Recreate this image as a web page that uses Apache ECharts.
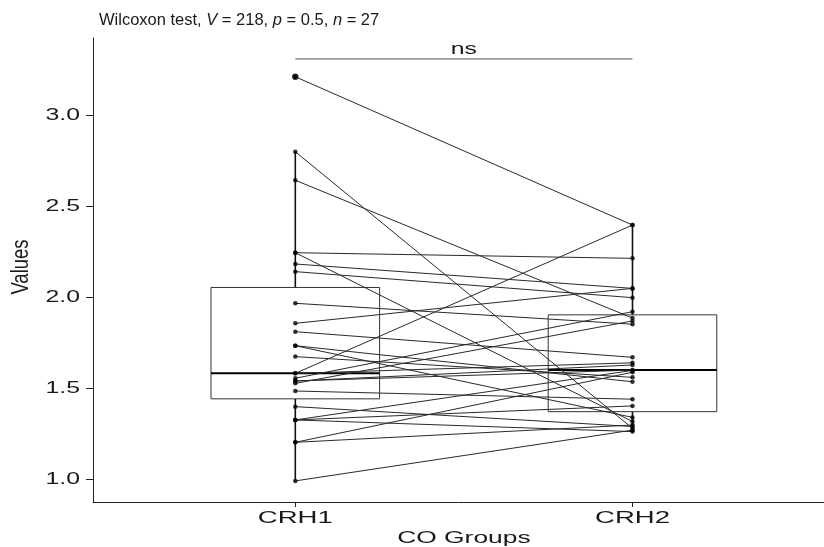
<!DOCTYPE html>
<html>
<head>
<meta charset="utf-8">
<script src="https://cdn.jsdelivr.net/npm/echarts@6/dist/echarts.min.js"></script>
<style>
html,body{margin:0;padding:0;background:#fff;}
#chart{width:824px;height:547px;}
</style>
</head>
<body>
<div id="chart"></div>
<script>
// ---- data ----
const categories = ['CRH1', 'CRH2'];
const crh1 = [3.212, 2.800, 2.643, 2.245, 2.245, 2.183, 2.141, 1.967, 1.857, 1.811, 1.734, 1.734, 1.674, 1.582,
              1.582, 1.555, 1.540, 1.540, 1.527, 1.485, 1.399, 1.326, 1.326, 1.326, 1.203, 1.203, 0.991];
const crh2 = [2.397, 1.280, 1.886, 2.214, 1.317, 2.049, 1.998, 1.852, 2.049, 1.670, 1.536, 1.340, 1.560, 2.397,
              1.640, 1.921, 1.628, 1.600, 1.870, 1.440, 1.290, 1.403, 1.598, 1.262, 1.298, 1.588, 1.270];
const yTicks = [1.0, 1.5, 2.0, 2.5, 3.0];
const xTitle = 'CO Groups';
const yTitle = 'Values';
const testTitle = ['Wilcoxon test, ', 'V', ' = 218, ', 'p', ' = 0.5, ', 'n', ' = 27'];
const sigLabel = 'ns';
const sigLevel = 3.31;

// ---- helpers ----
function quantile(arr, p) {
  const s = arr.slice().sort((a, b) => a - b);
  const h = (s.length - 1) * p;
  const lo = Math.floor(h), hi = Math.ceil(h);
  return s[lo] + (s[hi] - s[lo]) * (h - lo);
}
function boxStats(arr) {
  const q1 = quantile(arr, 0.25), med = quantile(arr, 0.5), q3 = quantile(arr, 0.75);
  const iqr = q3 - q1;
  const inside = arr.filter(v => v >= q1 - 1.5 * iqr && v <= q3 + 1.5 * iqr);
  return [Math.min(...inside), q1, med, q3, Math.max(...inside)];
}
const groups = [crh1, crh2];
const boxData = groups.map((g, i) => [i + 1].concat(boxStats(g)));

const pairLines = crh1.map((v, i) => ({ coords: [[1, v], [2, crh2[i]]] }));
const points = [];
groups.forEach((g, i) => g.forEach(v => points.push([i + 1, v])));
const outliers = [];
groups.forEach((g, i) => {
  const st = boxStats(g);
  g.forEach(v => { if (v < st[0] || v > st[4]) outliers.push([i + 1, v]); });
});

const FONT = '"Liberation Sans", Arial, sans-serif';
const TXT = '#1a1a1a';
const chart = echarts.init(document.getElementById('chart'));

const rich = { n: { fontFamily: FONT, fontSize: 16.5, color: TXT, fontWeight: 'normal' },
               i: { fontFamily: FONT, fontSize: 16.5, color: TXT, fontWeight: 'normal', fontStyle: 'italic' } };
const titleText = testTitle.map((t, k) => (k % 2 ? '{i|' : '{n|') + t + '}').join('');

chart.setOption({
  animation: false,
  backgroundColor: '#fff',
  title: { text: titleText, left: 94, top: 7, textStyle: { rich: rich, fontWeight: 'normal' } },
  grid: { left: 93, right: 0, top: 38, bottom: 45, outerBoundsMode: 'none' },
  xAxis: {
    type: 'value', min: 0.4, max: 2.568,
    splitLine: { show: false },
    axisLine: { show: true, onZero: false, lineStyle: { color: '#222', width: 1 } },
    axisTick: { show: true, customValues: [1, 2], length: 5, lineStyle: { color: '#222' } },
    axisLabel: { show: false }
  },
  yAxis: {
    type: 'value', min: 0.875, max: 3.425,
    splitLine: { show: false },
    axisLine: { show: true, onZero: false, lineStyle: { color: '#222', width: 1 } },
    axisTick: { show: true, customValues: yTicks, length: 7, lineStyle: { color: '#222' } },
    axisLabel: { show: false }
  },
  series: [
    {
      type: 'custom', z: 1,
      data: boxData,
      renderItem: function (params, api) {
        const x = api.value(0);
        const lo = api.value(1), q1 = api.value(2), md = api.value(3), q3 = api.value(4), hi = api.value(5);
        const pL = api.coord([x - 0.25, q3]), pR = api.coord([x + 0.25, q1]);
        const pLo = api.coord([x, lo]), pHi = api.coord([x, hi]);
        const pQ1 = api.coord([x, q1]), pQ3 = api.coord([x, q3]);
        const mL = api.coord([x - 0.25, md]), mR = api.coord([x + 0.25, md]);
        return { type: 'group', children: [
          { type: 'line', shape: { x1: pLo[0], y1: pLo[1], x2: pQ1[0], y2: pQ1[1] }, style: { stroke: '#111', lineWidth: 1.6 } },
          { type: 'line', shape: { x1: pQ3[0], y1: pQ3[1], x2: pHi[0], y2: pHi[1] }, style: { stroke: '#111', lineWidth: 1.6 } },
          { type: 'rect', shape: { x: pL[0], y: pL[1], width: pR[0] - pL[0], height: pR[1] - pL[1] },
            style: { fill: '#fff', stroke: '#333', lineWidth: 1 } },
          { type: 'line', shape: { x1: mL[0], y1: mL[1], x2: mR[0], y2: mR[1] }, style: { stroke: '#000', lineWidth: 2 } }
        ]};
      }
    },
    {
      type: 'lines', coordinateSystem: 'cartesian2d', z: 2,
      data: pairLines,
      lineStyle: { color: '#2a2a2a', width: 1, opacity: 1 },
      silent: true
    },
    {
      type: 'scatter', z: 3, data: points, symbolSize: 4.5,
      itemStyle: { color: '#000' }
    },
    {
      type: 'scatter', z: 3, data: outliers, symbolSize: 6.5,
      itemStyle: { color: '#000' }
    },
    {
      type: 'line', z: 3, data: [[1, sigLevel], [2, sigLevel]], symbol: 'none',
      lineStyle: { color: '#555', width: 1 }
    }
  ]
});

// ---- axis texts (horizontally widened like the reference) ----
function txt(x, y, text, size, stretch, align) {
  return {
    type: 'text', x: x, y: y, scaleX: stretch, silent: true,
    style: { text: text, fontFamily: FONT, fontSize: size, fill: TXT,
             textAlign: align || 'center', textVerticalAlign: 'middle' }
  };
}
const g = [];
yTicks.forEach(v => {
  const p = chart.convertToPixel({ xAxisIndex: 0, yAxisIndex: 0 }, [0.4, v]);
  g.push(txt(p[0] - 13, p[1], v.toFixed(1), 16, 1.55, 'right'));
});
categories.forEach((c, i) => {
  const p = chart.convertToPixel({ xAxisIndex: 0, yAxisIndex: 0 }, [i + 1, 0.875]);
  g.push(txt(p[0], p[1] + 16, c, 17, 1.62));
});
const pMidX = chart.convertToPixel({ xAxisIndex: 0, yAxisIndex: 0 }, [1.5, 0.875]);
g.push(txt(pMidX[0], pMidX[1] + 36, xTitle, 16.5, 1.6));
const pMidY = chart.convertToPixel({ xAxisIndex: 0, yAxisIndex: 0 }, [0.4, (0.875 + 3.425) / 2]);
g.push({
  type: 'text', x: 22, y: pMidY[1] - 3, rotation: Math.PI / 2, scaleY: 1.25, silent: true,
  style: { text: yTitle, fontFamily: FONT, fontSize: 18.5, fill: TXT, textAlign: 'center', textVerticalAlign: 'middle' }
});
const pSig = chart.convertToPixel({ xAxisIndex: 0, yAxisIndex: 0 }, [1.5, sigLevel]);
g.push(txt(pSig[0], pSig[1] - 9, sigLabel, 16, 1.55));
chart.setOption({ graphic: g });
</script>
</body>
</html>
